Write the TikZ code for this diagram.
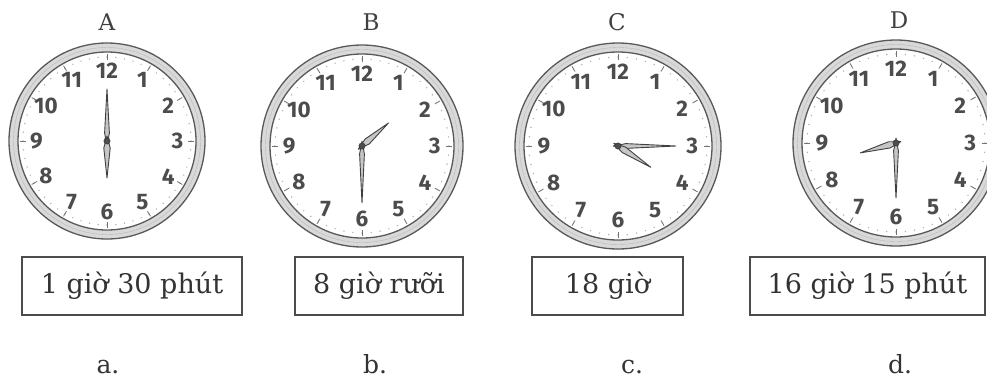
\documentclass[tikz,border=0pt]{standalone}
\usepackage{fontspec}
\setmainfont{DejaVu Serif}
\newfontfamily\dialfont{Fira Sans}

\tikzset{
  ring/.style={draw=black!65, line width=1.3pt},
  hand/.style={fill=gray!45, draw=black!75, line width=0.9pt, line join=round},
  numeral/.style={font=\dialfont\bfseries\fontsize{22.5}{22.5}\selectfont, text=black!70},
  caption/.style={font=\fontsize{23}{23}\selectfont, text=black!75, inner sep=1pt},
  timebox/.style={draw=black!70, line width=1.6pt, minimum height=58pt, inner sep=0pt,
                  font=\fontsize{27}{27}\selectfont, text=black!80},
  answer/.style={font=\fontsize{25}{25}\selectfont, text=black!80, inner sep=1pt}
}

\begin{document}
\begin{tikzpicture}[x=1pt, y=1pt]
  \useasboundingbox (0,0) rectangle (987,-381);

  % 1. bốn mặt đồng hồ
  \foreach \nm/\cx/\cy/\r/\ha/\hl/\ma/\ml in {A/107/-141/98/-90/37/90/52,
      B/362/-146/101/41/35/-90/57, C/618/-146/103/-33/39/0/58,
      D/896/-143/103/-164.5/37/-90/55}{
    \begin{scope}[shift={(\cx,\cy)}]
      \fill[gray!30, even odd rule] (0,0) circle (\r) (0,0) circle ({\r-9});
      \draw[ring] (0,0) circle (\r);
      \draw[ring] (0,0) circle ({\r-9});
      \draw[gray!55, thin] (0,0) circle ({\r-4.5});
      \foreach \k in {0,...,59}
        \fill[gray!60] ({\k*6}:{\r-14}) circle (0.8);
      \foreach \k in {1,...,12}{
        \draw[black!55, line width=0.8pt] ({90-\k*30}:{\r-17}) -- ({90-\k*30}:{\r-11});
        \node[numeral] at ({90-\k*30}:{0.72*\r}) {\k};
      }
      % kim phút và kim giờ
      \begin{scope}[rotate=\ma]
        \filldraw[hand] (-5,0) -- (8,2.4) -- (\ml,0) -- (8,-2.4) -- cycle;
      \end{scope}
      \begin{scope}[rotate=\ha]
        \filldraw[hand] (-5,0) -- (7,3.2) -- (\hl,0) -- (7,-3.2) -- cycle;
      \end{scope}
      \filldraw[fill=black!70, draw=black!80] (0,0) circle (3.2);
    \end{scope}
  }

  % 2. chữ cái trên đồng hồ
  \node[caption] (tA) at (107,-22.5) {A};
  \node[caption] (tB) at (371,-22.5) {B};
  \node[caption] (tC) at (617,-22.5) {C};
  \node[caption] (tD) at (899,-20) {D};

  % 3. các ô ghi giờ và nhãn a. b. c. d.
  \foreach \nm/\bx/\bw/\txt/\lx/\lt in {a/132/220/1 giờ 30 phút/108/a.,
      b/379/168/8 giờ rưỡi/375/b., c/607.5/151/18 giờ/632/c.,
      d/867.5/235/16 giờ 15 phút/900/d.}{
    \node[timebox, minimum width=\bw pt] (box\nm) at (\bx,-286) {\txt};
    \node[answer, anchor=base] (lb\nm) at (\lx,-373) {\lt};
  }
\end{tikzpicture}
\end{document}
